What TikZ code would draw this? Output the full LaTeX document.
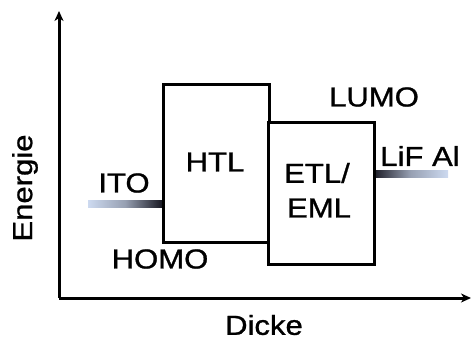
\documentclass[tikz,border=0pt]{standalone}
\usepackage{fontspec}
\setmainfont{Liberation Sans}[RawFeature={embolden=0.9}]
\usetikzlibrary{arrows.meta}
\definecolor{barlight}{RGB}{205,218,240}
\definecolor{bardark}{RGB}{25,25,35}
\tikzset{
  layer/.style={draw=black, line width=3pt, fill=white},
  axis/.style={line width=3pt, -{Stealth[length=10pt,width=9pt,inset=3pt]}},
  lbl/.style={inner sep=0pt, font=\fontsize{27.5}{30}\selectfont},
}
\newcommand{\wide}[1]{\scalebox{1.13}[1]{#1}}
\begin{document}
\begin{tikzpicture}[x=1pt,y=-1pt]
\useasboundingbox (0,0) rectangle (472,341);
% axes
\coordinate (o) at (59,298);
\coordinate (ytop) at (59,11);
\coordinate (xend) at (471,298);
\draw[axis] (o) -- (ytop);
\draw[axis] (o) -- (xend);
% electrode contacts
\shade[left color=barlight, right color=bardark, middle color=barlight!70!bardark] (88,200.5) rectangle (162,207.5);
\shade[left color=bardark, right color=barlight, middle color=barlight!70!bardark] (373,170.5) rectangle (448,177.5);
% layers
\node[layer, minimum width=106pt, minimum height=158pt, anchor=north west] (htl) at (162,83) {};
\node[layer, minimum width=106pt, minimum height=142pt, anchor=north west] (etl) at (267,121) {};
% labels
\node[lbl] (htltxt) at (215,162) {\wide{HTL}};
\node[lbl] (etltxt) at (317,173) {\wide{ETL/}};
\node[lbl] (emltxt) at (319,208) {\wide{EML}};
\node[lbl] (ito) at (124,183) {\wide{ITO}};
\node[lbl] (lif) at (420,156) {\wide{LiF Al}};
\node[lbl] (lumo) at (374,97) {\wide{LUMO}};
\node[lbl] (homo) at (160,259) {\wide{HOMO}};
\node[lbl] (dicke) at (264,325) {\wide{Dicke}};
\node[lbl, rotate=90] (energie) at (25,188) {\wide{Energie}};
\end{tikzpicture}
\end{document}
